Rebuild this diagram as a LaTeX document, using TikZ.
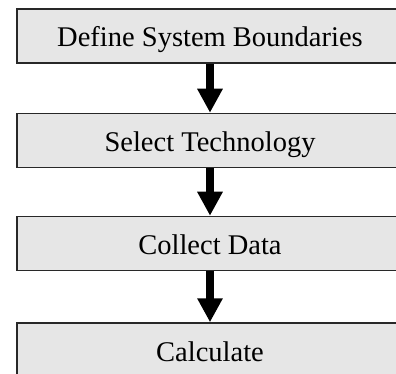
\documentclass[tikz,border=0pt]{standalone}
\usepackage{fontspec}
\setmainfont{Liberation Serif}
\usepackage{xcolor}
\usetikzlibrary{arrows.meta,positioning}
\definecolor{boxgray}{RGB}{230,230,230}
\definecolor{edgegray}{RGB}{40,40,40}

\begin{document}
\begin{tikzpicture}[x=1pt, y=-1pt,
    stepbox/.style={rectangle, draw=edgegray, line width=1.5pt, fill=boxgray, minimum width=386pt, minimum height=54pt, inner sep=0pt, text height=24pt, text depth=2pt, font=\fontsize{28.5}{34}\selectfont},
    arrow/.style={-{Triangle[width=24pt,length=24pt]}, line width=8pt}
]
    \clip (0,0) rectangle (396,374);

    \node[stepbox] (define) at (210,36) {Define System Boundaries};
    \node[stepbox] (select) at (210,140.5) {Select Technology};
    \node[stepbox] (collect) at (210,243.5) {Collect Data};
    \node[stepbox] (calc) at (210,350) {Calculate};

    \draw[arrow] (define) -- (select);
    \draw[arrow] (select) -- (collect);
    \draw[arrow] (collect) -- (calc);
\end{tikzpicture}
\end{document}
